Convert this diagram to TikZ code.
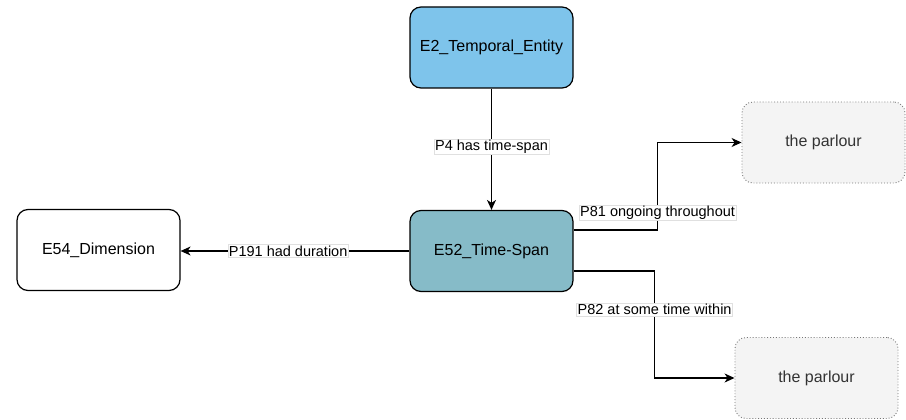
\documentclass[tikz,border=0pt]{standalone}
\usepackage{fontspec}
\setmainfont{Liberation Sans}
\usetikzlibrary{arrows.meta,positioning}
\definecolor{tempblue}{HTML}{7EC4EB}
\definecolor{tsblue}{HTML}{86BBC8}
\definecolor{parlfill}{HTML}{F4F4F4}
\definecolor{parldraw}{HTML}{777777}
\definecolor{parltext}{HTML}{333333}
\tikzset{
  box/.style={draw=black, line width=1.2pt, rounded corners=11pt, minimum width=163pt, minimum height=81pt, font=\fontsize{16}{18}\selectfont, inner sep=0pt},
  ghost/.style={draw=parldraw, dotted, line width=0.9pt, fill=parlfill, rounded corners=11pt, minimum width=163pt, minimum height=81pt, font=\fontsize{16}{18}\selectfont, text=parltext, inner sep=0pt},
  conn/.style={line width=1.3pt, -{Stealth[length=10pt,width=9pt,inset=3pt]}},
  lbl/.style={fill=white, draw=black!12, line width=0.4pt, inner sep=1pt, font=\fontsize{14.5}{16}\selectfont}
}
\begin{document}
\begin{tikzpicture}[x=1pt,y=-1pt]
\useasboundingbox (0,0) rectangle (906,420);
\node[box, fill=tempblue] (te) at (491.5,47.5) {E2\_Temporal\_Entity};
\node[box, fill=tsblue] (ts) at (491.5,251) {E52\_Time-Span};
\node[box, fill=white] (dim) at (98.5,250) {E54\_Dimension};
\node[ghost] (p1) at (823.5,142.5) {the parlour};
\node[ghost] (p2) at (816.5,378) {the parlour};
\draw[conn] (te) -- node[lbl, pos=0.48] {P4 has time-span} (ts);
\draw[conn] (ts.west) -- node[lbl, pos=0.53] {P191 had duration} (dim.east |- ts.west);
\draw[conn] ([yshift=21pt]ts.east) -- ++(84,0) |- node[lbl, pos=0.1] {P81 ongoing throughout} (p1.west);
\draw[conn] ([yshift=-20pt]ts.east) -- ++(81,0) |- node[lbl, pos=0.18] {P82 at some time within} (p2.west);
\end{tikzpicture}
\end{document}
